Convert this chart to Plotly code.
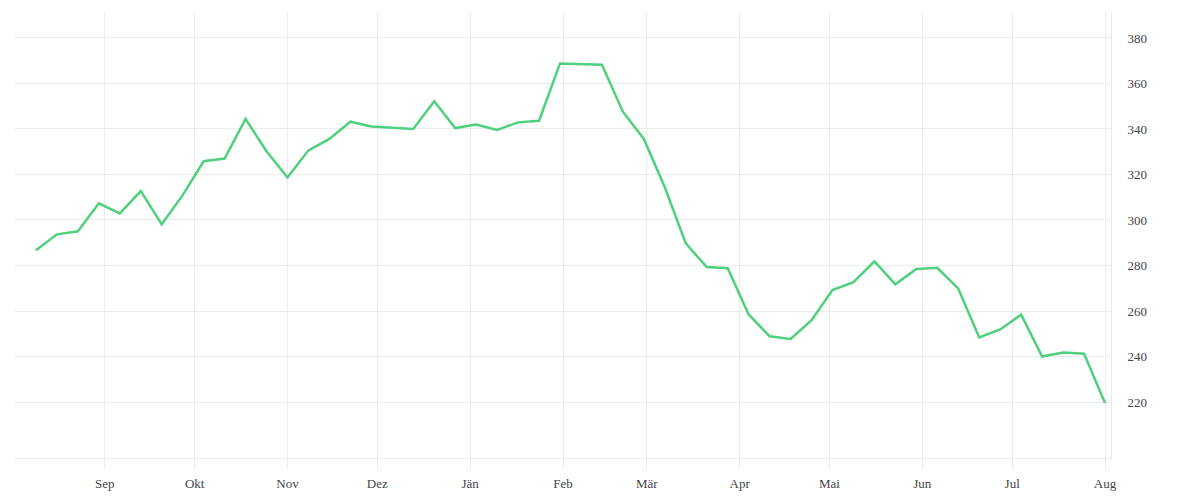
import pandas as pd
import plotly.graph_objects as go

start_date = "2022-08-09"
n_weeks = 52
dates = pd.date_range(start=start_date, periods=n_weeks, freq="7D")

values = [
    286.7, 293.7, 295.0, 307.3, 302.9, 312.7, 298.1, 310.9, 325.8, 327.0,
    344.4, 330.2, 318.7, 330.6, 335.6, 343.2, 341.1, 340.4, 340.0, 352.2,
    340.4, 341.9, 339.6, 342.9, 343.6, 368.8, 368.6, 368.2, 347.6, 335.6,
    314.4, 289.7, 279.3, 278.8, 258.5, 248.9, 247.7, 256.0, 269.2, 272.7,
    281.8, 271.7, 278.5, 279.0, 269.8, 248.4, 251.9, 258.4, 240.0, 241.8,
    241.2, 219.6,
]

month_ticks = ["2022-09-01", "2022-10-01", "2022-11-01", "2022-12-01",
               "2023-01-01", "2023-02-01", "2023-03-01", "2023-04-01",
               "2023-05-01", "2023-06-01", "2023-07-01", "2023-08-01"]
month_labels = ["Sep", "Okt", "Nov", "Dez", "Jän", "Feb", "Mär", "Apr",
                "Mai", "Jun", "Jul", "Aug"]
y_ticks = [220, 240, 260, 280, 300, 320, 340, 360, 380]

grid = "#ebebeb"

fig = go.Figure()
fig.add_trace(go.Scatter(
    x=dates, y=values, mode="lines",
    line=dict(color="#4ed07d", width=2.5),
    hoverinfo="x+y",
))

fig.update_layout(
    width=1192, height=492,
    margin=dict(l=7, r=89, t=4, b=42),
    paper_bgcolor="white", plot_bgcolor="white",
    showlegend=False,
    font=dict(family="Liberation Serif", size=13, color="#444"),
    xaxis=dict(
        type="date",
        range=["2022-08-02", "2023-08-03"],
        tickvals=month_ticks, ticktext=month_labels,
        showgrid=True, gridcolor=grid, gridwidth=1,
        showline=True, linecolor=grid, linewidth=1,
        ticks="outside", ticklen=10, tickcolor=grid,
        zeroline=False,
        ticklabelstandoff=3,
    ),
    yaxis=dict(
        side="right",
        range=[195.4, 391.4],
        tickvals=y_ticks,
        showgrid=True, gridcolor=grid, gridwidth=1,
        showline=True, linecolor=grid, linewidth=1,
        ticks="", zeroline=False,
        ticklabelstandoff=13,
    ),
)

fig.write_html("out.html")
